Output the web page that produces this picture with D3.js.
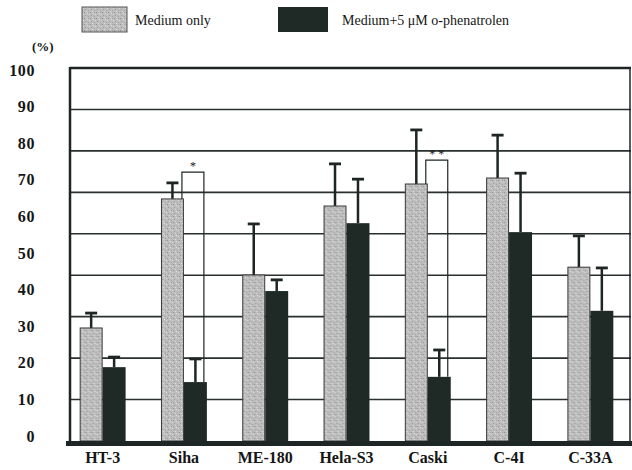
<!DOCTYPE html>
<html>
<head>
<meta charset="utf-8">
<style>
  body { margin: 0; background: #fff; }
  svg { display: block; }
  text { font-family: "Liberation Serif", "Times New Roman", serif; fill: #151515; }
</style>
</head>
<body>
<svg width="632" height="470"></svg>
<script src="https://d3js.org/d3.v7.min.js"></script>
<script>
// cell lines on the x axis
var cellLines = ["HT-3", "Siha", "ME-180", "Hela-S3", "Caski", "C-4I", "C-33A"];
var seriesNames = ["Medium only", "Medium+5 \u03bcM o-phenatrolen"];

// mean (%) and error bar size
var mediumOnly   = [30.3, 64.9, 44.5, 63.0, 68.9, 70.5, 46.6];
var mediumOnlySd = [4.0, 4.3, 13.7, 11.3, 14.5, 11.5, 8.4];
var phenan       = [19.8, 15.8, 40.2, 58.4, 17.2, 56.0, 34.9];
var phenanSd     = [2.7, 6.2, 3.0, 11.8, 7.2, 15.8, 11.5];

var yTicks = [0, 10, 20, 30, 40, 50, 60, 70, 80, 90, 100];
var gridCount = 9;   // the figure splits the frame into 9 bands

// significance brackets
var sigCells = ["Siha", "Caski"];
var sigTop   = [72.1, 75.3];
var sigMark  = ["*", "* *"];

var svg = d3.select("svg");
var dark = "#1d2624";

var plotL = 70, plotR = 631, plotT = 68, plotB = 441;

// stippled grey fill
var defs = svg.append("defs");
var pat = defs.append("pattern").attr("id", "stip")
    .attr("patternUnits", "userSpaceOnUse").attr("width", 6).attr("height", 6);
pat.append("rect").attr("width", 6).attr("height", 6).attr("fill", "#bdbdbd");
[[0,0,"#8f8f8f"],[3,1,"#e0e0e0"],[1,3,"#9a9a9a"],[4,4,"#a5a5a5"],[5,2,"#d8d8d8"],[2,5,"#dadada"],[4,0,"#a8a8a8"]]
  .forEach(function(p) {
    pat.append("rect").attr("x", p[0]).attr("y", p[1]).attr("width", 1).attr("height", 1).attr("fill", p[2]);
  });

var y = d3.scaleLinear().domain([0, 100]).range([plotB, plotT]);
var yLab = d3.scaleLinear().domain([0, 100]).range([436, 70]);

var x = d3.scaleBand().domain(cellLines).range([62, 631])
    .paddingInner(0.435).paddingOuter(0.2175);
var x1 = d3.scaleBand().domain([0, 1]).range([0, x.bandwidth()]);

// grid lines
var g = svg.append("g");
g.selectAll("line.grid")
  .data(d3.range(1, gridCount))
  .enter().append("line")
    .attr("x1", plotL).attr("x2", plotR)
    .attr("y1", function(d) { return y(d * 100 / gridCount); })
    .attr("y2", function(d) { return y(d * 100 / gridCount); })
    .attr("stroke", "#2a302e").attr("stroke-width", 1.6);

// frame
g.append("line").attr("x1", plotL).attr("x2", plotR).attr("y1", plotT).attr("y2", plotT)
    .attr("stroke", dark).attr("stroke-width", 2.5);
g.append("line").attr("x1", plotL).attr("x2", plotL).attr("y1", plotT - 1).attr("y2", plotB)
    .attr("stroke", dark).attr("stroke-width", 2.5);
g.append("line").attr("x1", plotR - 1).attr("x2", plotR - 1).attr("y1", plotT).attr("y2", plotB)
    .attr("stroke", dark).attr("stroke-width", 1.5);

// y tick labels
var yAxis = svg.append("g").attr("transform", "translate(35,0)")
  .call(d3.axisLeft(yLab).tickValues(yTicks).tickSize(0).tickPadding(0));
yAxis.select(".domain").remove();
yAxis.selectAll("text")
    .style("font-family", "'Liberation Serif', serif")
    .style("font-size", "16px").style("font-weight", "bold").attr("fill", "#151515")
    .attr("letter-spacing", "0.6px");

svg.append("text").attr("x", 32).attr("y", 51)
    .style("font-size", "13px").style("font-weight", "bold").text("(%)");

var rows = cellLines.map(function(c, i) {
  return { cell: c, vals: [mediumOnly[i], phenan[i]], sds: [mediumOnlySd[i], phenanSd[i]] };
});

var groups = svg.selectAll("g.cell").data(rows).enter().append("g")
    .attr("transform", function(d) { return "translate(" + x(d.cell) + ",0)"; });

// error bars first so bars sit on top of the stems
groups.each(function(d) {
  var gg = d3.select(this);
  d.vals.forEach(function(v, k) {
    var cx = x1(k) + x1.bandwidth() / 2;
    gg.append("line").attr("x1", cx).attr("x2", cx)
        .attr("y1", y(v)).attr("y2", y(v + d.sds[k]))
        .attr("stroke", dark).attr("stroke-width", 2.5);
    gg.append("line").attr("x1", cx - 6).attr("x2", cx + 6)
        .attr("y1", y(v + d.sds[k])).attr("y2", y(v + d.sds[k]))
        .attr("stroke", dark).attr("stroke-width", 2.8);
  });
});

groups.selectAll("rect.bar")
  .data(function(d) { return d.vals.map(function(v, k) { return { k: k, v: v }; }); })
  .enter().append("rect")
    .attr("x", function(d) { return x1(d.k) + (d.k === 0 ? 0.5 : 0); })
    .attr("width", function(d) { return x1.bandwidth() - (d.k === 0 ? 1 : 0); })
    .attr("y", function(d) { return y(d.v); })
    .attr("height", function(d) { return y(0) - y(d.v); })
    .attr("fill", function(d) { return d.k === 0 ? "url(#stip)" : "#1f2a27"; })
    .attr("stroke", function(d) { return d.k === 0 ? "#3a3a3a" : "none"; })
    .attr("stroke-width", 1);

// significance brackets
sigCells.forEach(function(c, i) {
  var idx = cellLines.indexOf(c);
  var xl = x(c) + x1(0) + x1.bandwidth() - 2;
  var xr = x(c) + x1(1) + x1.bandwidth() - 3;
  svg.append("path")
      .attr("d", "M" + xl + "," + y(mediumOnly[idx]) + "V" + y(sigTop[i]) +
                 "H" + xr + "V" + y(phenan[idx]))
      .attr("fill", "none").attr("stroke", dark).attr("stroke-width", 1.2);
  svg.append("text").attr("x", (xl + xr) / 2).attr("y", y(sigTop[i]) - 2)
      .attr("text-anchor", "middle").style("font-size", "12px").text(sigMark[i]);
});

// heavy bottom axis
svg.append("line").attr("x1", 66).attr("x2", 632).attr("y1", plotB + 2.5).attr("y2", plotB + 2.5)
    .attr("stroke", dark).attr("stroke-width", 5);

// category labels
var xAxis = svg.append("g").attr("transform", "translate(0,452)")
  .call(d3.axisBottom(x).tickSize(0).tickPadding(0));
xAxis.select(".domain").remove();
xAxis.selectAll("text")
    .style("font-family", "'Liberation Serif', serif")
    .style("font-size", "16px").style("font-weight", "bold").attr("fill", "#151515");

// legend
var legend = svg.append("g");
var legX = [82, 278], legW = [45, 50], legTxt = [135, 342];
seriesNames.forEach(function(name, k) {
  legend.append("rect").attr("x", legX[k]).attr("y", 7).attr("width", legW[k]).attr("height", 25)
      .attr("fill", k === 0 ? "url(#stip)" : "#1f2a27")
      .attr("stroke", k === 0 ? "#555" : "none");
  legend.append("text").attr("x", legTxt[k]).attr("y", 25)
      .style("font-size", "14px").text(name);
});
</script>
</body>
</html>
